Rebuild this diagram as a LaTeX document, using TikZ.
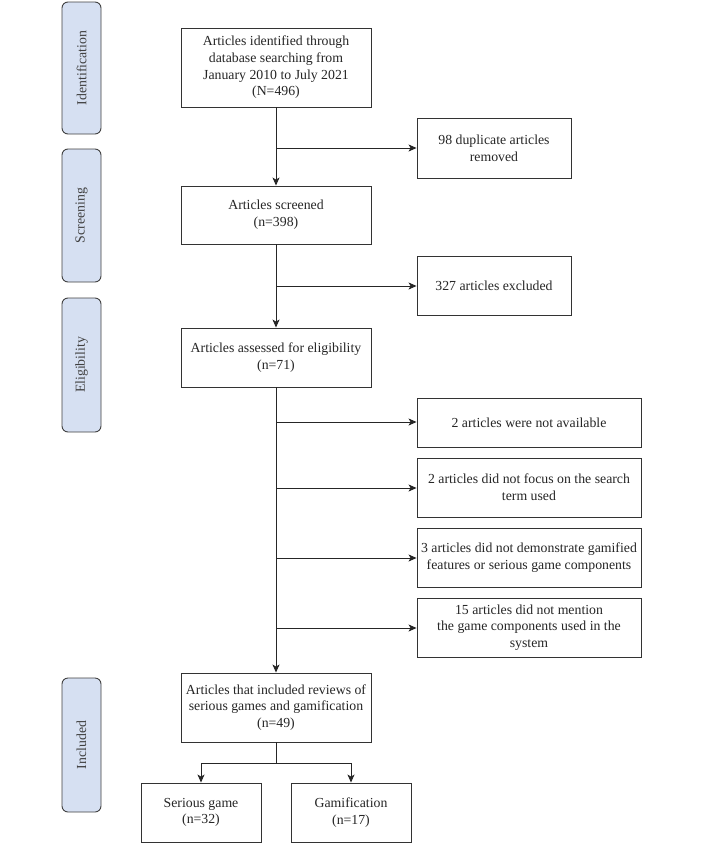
\documentclass[tikz,border=0pt]{standalone}
\usepackage{fontspec}
\setmainfont{Liberation Serif}
\usetikzlibrary{arrows.meta}
\begin{document}
\begin{tikzpicture}[x=1pt,y=-1pt,
  box/.style={draw=black!80, line width=0.9pt, fill=white, align=center, font=\fontsize{13.8}{16.7}\selectfont, inner sep=0pt, text=black!85},
  phase/.style={draw=black!75, line width=0.9pt, fill={rgb,255:red,214;green,224;blue,242}, rounded corners=6pt, inner sep=0pt},
  plab/.style={rotate=90, font=\fontsize{13.8}{16}\selectfont, text=black!75},
  arr/.style={-{Stealth[length=8pt,width=7pt,inset=2pt]}, line width=0.9pt, draw=black!85},
  ln/.style={line width=0.9pt, draw=black!85}]
\useasboundingbox (0,0) rectangle (703,844);
% phase labels
\node[phase, minimum width=39pt, minimum height=132pt] (pI) at (81.5,68) {};
\node[plab] at (pI) {Identification};
\node[phase, minimum width=39pt, minimum height=133pt] (pS) at (81.5,215.5) {};
\node[plab] at (pS) {Screening};
\node[phase, minimum width=39pt, minimum height=134pt] (pE) at (81.5,365) {};
\node[plab] at (pE) {Eligibility};
\node[phase, minimum width=39pt, minimum height=134pt] (pN) at (81.5,745) {};
\node[plab] at (pN) {Included};
% main boxes
\node[box, minimum width=190pt, minimum height=79pt] (b1) at (276,67.5) {Articles identified through\\database searching from\\January 2010 to July 2021\\(N=496)};
\node[box, minimum width=190pt, minimum height=58pt] (b2) at (276,215) {Articles screened\\(n=398)};
\node[box, minimum width=190pt, minimum height=59pt] (b3) at (276,357.5) {Articles assessed for eligibility\\(n=71)};
\node[box, minimum width=190pt, minimum height=69pt] (b4) at (276,707.5) {Articles that included reviews of\\serious games and gamification\\(n=49)};
\node[box, minimum width=120pt, minimum height=59pt] (b5) at (201,812.5) {Serious game\\(n=32)};
\node[box, minimum width=120pt, minimum height=59pt] (b6) at (351,812.5) {Gamification\\(n=17)};
% side boxes
\node[box, minimum width=154pt, minimum height=60pt] (r1) at (494,148) {98 duplicate articles\\removed};
\node[box, minimum width=154pt, minimum height=59pt] (r2) at (494,285.5) {327 articles excluded};
\node[box, minimum width=224pt, minimum height=49pt] (r3) at (529,422.5) {2 articles were not available};
\node[box, minimum width=224pt, minimum height=59pt] (r4) at (529,487.5) {2 articles did not focus on the search\\term used};
\node[box, minimum width=224pt, minimum height=59pt] (r5) at (529,557.5) {3 articles did not demonstrate gamified\\features or serious game components};
\node[box, minimum width=224pt, minimum height=59pt] (r6) at (529,627.5) {15 articles did not mention\\the game components used in the\\system};
% connectors
\draw[arr] (b1.south) -- (b2.north);
\draw[arr] (b2.south) -- (b3.north);
\draw[arr] (b3.south) -- (b4.north);
\coordinate (j1) at (276,148);
\coordinate (j2) at (276,286);
\coordinate (j3) at (276,422);
\coordinate (j4) at (276,488);
\coordinate (j5) at (276,558);
\coordinate (j6) at (276,628);
\draw[arr] (j1) -- (j1 -| r1.west);
\draw[arr] (j2) -- (j2 -| r2.west);
\draw[arr] (j3) -- (j3 -| r3.west);
\draw[arr] (j4) -- (j4 -| r4.west);
\draw[arr] (j5) -- (j5 -| r5.west);
\draw[arr] (j6) -- (j6 -| r6.west);
\coordinate (sp) at (276,763);
\draw[ln] (b4.south) -- (sp);
\draw[arr] (sp) -| (b5.north);
\draw[arr] (sp) -| (b6.north);
\end{tikzpicture}
\end{document}
